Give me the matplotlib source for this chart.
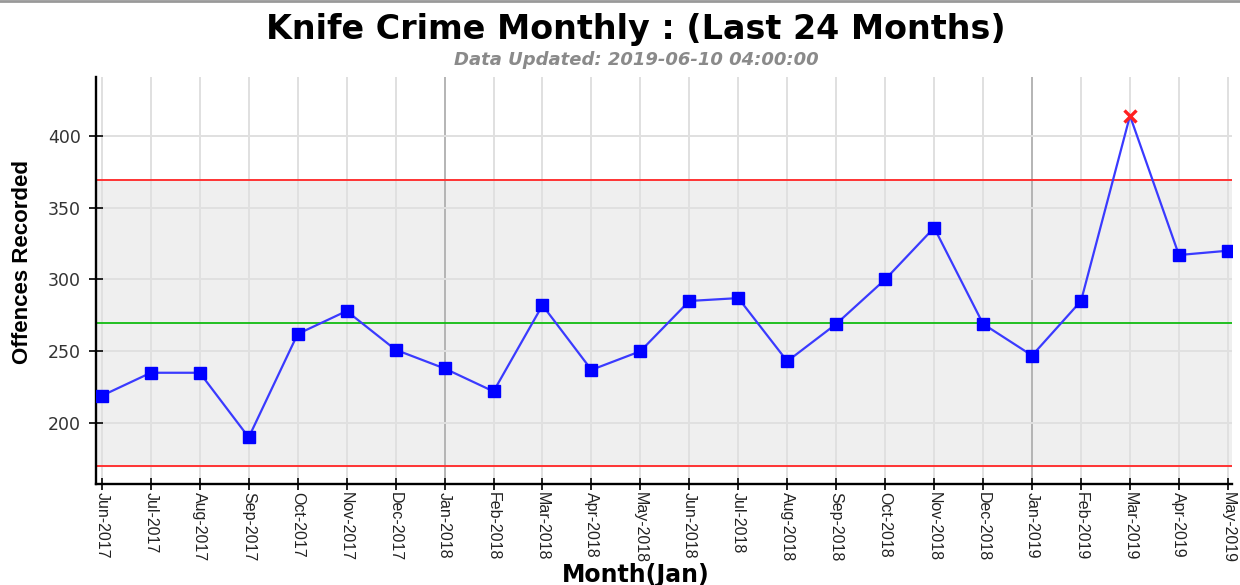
import numpy as np
import matplotlib.pyplot as plt

# valeurs
months = ["Jun-2017", "Jul-2017", "Aug-2017", "Sep-2017", "Oct-2017", "Nov-2017",
          "Dec-2017", "Jan-2018", "Feb-2018", "Mar-2018", "Apr-2018", "May-2018",
          "Jun-2018", "Jul-2018", "Aug-2018", "Sep-2018", "Oct-2018", "Nov-2018",
          "Dec-2018", "Jan-2019", "Feb-2019", "Mar-2019", "Apr-2019", "May-2019"]
offences = [219, 235, 235, 190, 262, 278, 251, 238, 222, 282, 237, 250,
            285, 287, 243, 269, 300, 336, 269, 247, 285, 414, 317, 320]
mean_line = 269.5
ucl = 369
lcl = 170
yticks = [200, 250, 300, 350, 400]

plt.rcParams['font.family'] = ['Liberation Sans', 'DejaVu Sans']

fig = plt.figure(figsize=(12.4, 5.85), dpi=100)
ax = fig.add_axes([0.0774, 0.1726, 0.916, 0.6958])

x = np.arange(len(months))
y = np.array(offences)

ax.axhspan(lcl, ucl, color='#efefef', zorder=0)
for xi in x:
    c = '#b4b4b4' if months[xi].startswith("Jan") else '#e0e0e0'
    ax.axvline(xi, color=c, lw=1.4, zorder=1)
for yt in yticks:
    ax.axhline(yt, color='#e0e0e0', lw=1.4, zorder=1)

ax.axhline(ucl, color='#ff3333', lw=1.4, zorder=2)
ax.axhline(lcl, color='#ff3333', lw=1.4, zorder=2)
ax.axhline(mean_line, color='#11bb11', lw=1.3, zorder=2)

ax.plot(x, y, color='#3a3aff', lw=1.6, zorder=3)
out = (y > ucl) | (y < lcl)
ax.plot(x[~out], y[~out], 's', color='#0000ff', ms=8, zorder=4, ls='none')
ax.plot(x[out], y[out], 'x', color='#ff2020', ms=8, mew=2.4, zorder=4, ls='none')

ax.set_xlim(-0.12, 23.08)
ax.set_ylim(157.5, 441)
ax.set_xticks(x)
ax.set_xticklabels(months, rotation=270, fontsize=11.5)
ax.set_yticks(yticks)
ax.set_yticklabels([str(v) for v in yticks], family='DejaVu Sans')
ax.tick_params(axis='y', labelsize=12.5, direction='inout', length=10, width=1.4,
               colors='#222222', labelcolor='#333333', pad=6)
ax.tick_params(axis='x', direction='inout', length=8, width=1.4, pad=2, colors='#222222')
for s in ['top', 'right']:
    ax.spines[s].set_visible(False)
for s in ['left', 'bottom']:
    ax.spines[s].set_linewidth(1.7)

fig.text(0.513, 0.949, "Knife Crime Monthly : (Last 24 Months)", ha='center', va='center',
         fontsize=24, fontweight='bold', family='DejaVu Sans')
fig.text(0.513, 0.897, "Data Updated: 2019-06-10 04:00:00", ha='center', va='center',
         fontsize=13, fontweight='bold', style='italic', color='#8a8a8a', family='DejaVu Sans')
fig.text(0.513, 0.017, "Month(Jan)", ha='center', va='center', fontsize=17, fontweight='bold',
         family='DejaVu Sans')
fig.text(0.018, 0.552, "Offences Recorded", ha='center', va='center', rotation=90,
         fontsize=16, fontweight='bold')

fig.add_artist(plt.Line2D([0, 1], [0.998, 0.998], color='#999999', lw=2))

fig.savefig("out.png", dpi=100)
